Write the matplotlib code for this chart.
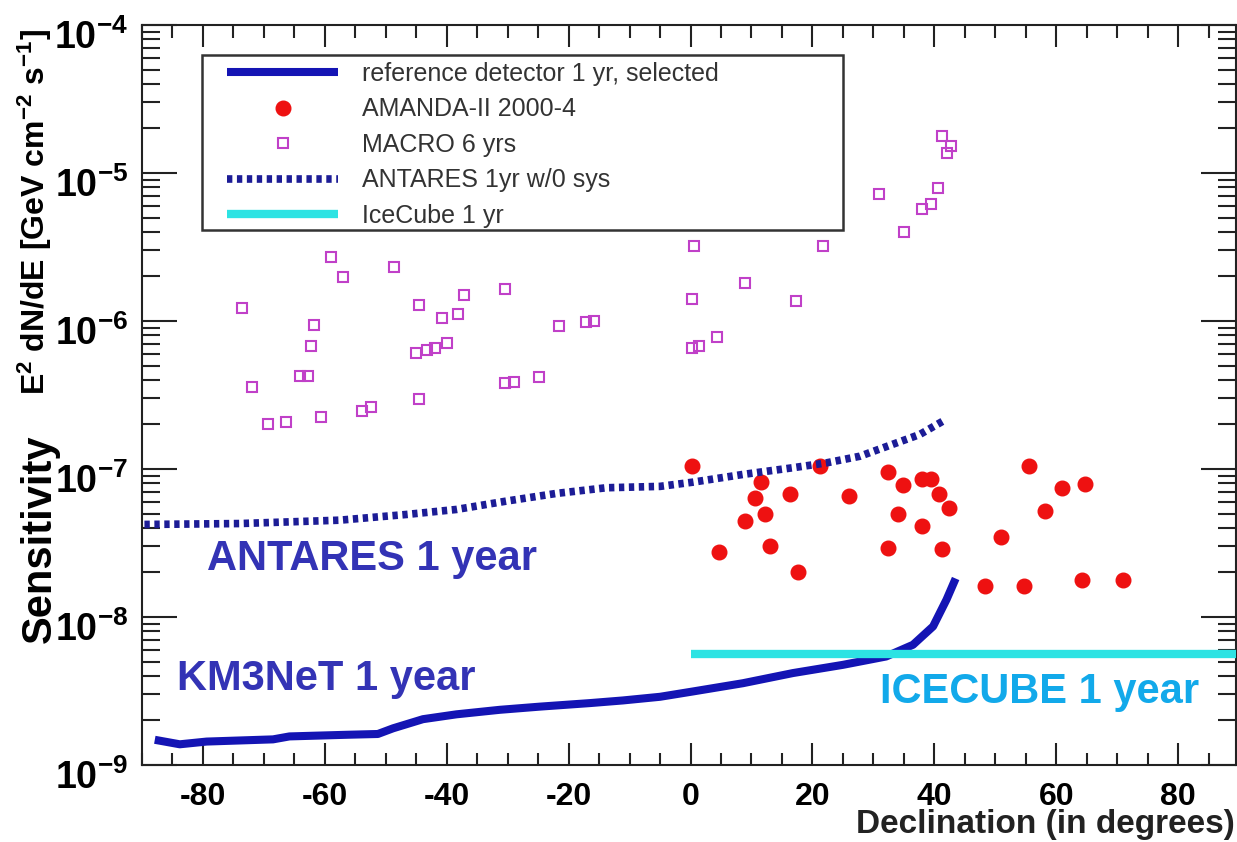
import numpy as np
import matplotlib
matplotlib.use("Agg")
from matplotlib import pyplot as plt
from matplotlib.ticker import LogLocator, MultipleLocator, NullFormatter
from matplotlib.patches import Rectangle
from matplotlib.transforms import ScaledTranslation

plt.rcParams['font.family'] = ['Liberation Sans', 'DejaVu Sans']
plt.rcParams['font.weight'] = 'bold'
plt.rcParams['mathtext.fontset'] = 'custom'
plt.rcParams['mathtext.rm'] = 'Liberation Sans:bold'
plt.rcParams['mathtext.bf'] = 'Liberation Sans:bold'
plt.rcParams['mathtext.it'] = 'Liberation Sans:bold:italic'
plt.rcParams['mathtext.default'] = 'rm'
plt.rcParams['axes.unicode_minus'] = False

# KM3NeT reference detector, 1 yr
km3_dec = [-87.9, -83.8, -79.4, -68.5, -65.8, -56.5, -51.3, -48.8, -43.9, -38.4, -31.3,
           -24.7, -16.5, -11.1, -5.0, 0.4, 8.6, 16.8, 25.0, 32.1, 36.5, 39.8, 42.0, 43.5]
km3_sens = [1.48e-9, 1.38e-9, 1.44e-9, 1.49e-9, 1.56e-9, 1.60e-9, 1.62e-9, 1.77e-9, 2.04e-9,
            2.20e-9, 2.36e-9, 2.48e-9, 2.62e-9, 2.73e-9, 2.89e-9, 3.14e-9, 3.57e-9, 4.18e-9,
            4.75e-9, 5.41e-9, 6.49e-9, 8.64e-9, 1.31e-8, 1.82e-8]

# AMANDA-II 2000-4
amanda_dec = [0.2, 4.7, 8.9, 10.5, 11.5, 12.2, 13.1, 16.4, 17.6, 21.2, 26.0, 32.4, 32.4, 34.0,
              34.8, 37.9, 38.0, 39.5, 40.7, 42.4, 41.2, 48.3, 51.0, 54.7, 55.5, 58.2, 60.9,
              64.7, 64.3, 70.9]
amanda_sens = [1.05e-7, 2.73e-8, 4.43e-8, 6.39e-8, 8.20e-8, 4.93e-8, 3.01e-8, 6.73e-8, 2.00e-8,
               1.05e-7, 6.62e-8, 9.59e-8, 2.93e-8, 4.93e-8, 7.74e-8, 4.15e-8, 8.51e-8, 8.51e-8,
               6.73e-8, 5.47e-8, 2.89e-8, 1.63e-8, 3.48e-8, 1.63e-8, 1.05e-7, 5.19e-8, 7.46e-8,
               7.94e-8, 1.79e-8, 1.79e-8]

# MACRO 6 yrs
macro_dec = [-73.6, -71.9, -69.3, -66.4, -64.1, -62.8, -62.2, -61.7, -60.6, -59.0, -57.1,
             -53.9, -52.5, -48.6, -45.1, -44.6, -44.6, -43.2, -41.9, -40.7, -39.9, -38.2,
             -37.2, -30.4, -30.4, -29.0, -24.9, -21.6, -17.2, -15.8, 0.6, 0.25, 0.25, 1.35,
             4.4, 8.9, 17.3, 21.7, 30.9, 35.0, 38.0, 39.4, 40.6, 41.2, 42.8, 42.1]
macro_sens = [1.22e-6, 3.58e-7, 2.00e-7, 2.08e-7, 4.25e-7, 4.25e-7, 6.79e-7, 9.41e-7, 2.26e-7,
              2.70e-6, 1.97e-6, 2.47e-7, 2.62e-7, 2.31e-6, 6.04e-7, 1.29e-6, 2.99e-7, 6.38e-7,
              6.59e-7, 1.04e-6, 7.05e-7, 1.11e-6, 1.50e-6, 1.64e-6, 3.80e-7, 3.90e-7, 4.19e-7,
              9.18e-7, 9.80e-7, 1.00e-6, 3.23e-6, 1.41e-6, 6.61e-7, 6.73e-7, 7.74e-7, 1.81e-6,
              1.37e-6, 3.23e-6, 7.23e-6, 3.98e-6, 5.73e-6, 6.18e-6, 7.94e-6, 1.78e-5, 1.52e-5,
              1.37e-5]

# ANTARES 1 yr w/o sys
antares_dec = [-89.6, -74.0, -57.6, -46.6, -38.4, -30.2, -22.0, -13.8, -5.0, 0.4, 8.6, 16.8,
               22.3, 27.8, 33.2, 37.6, 41.7]
antares_sens = [4.22e-8, 4.28e-8, 4.51e-8, 4.93e-8, 5.33e-8, 6.07e-8, 6.84e-8, 7.47e-8, 7.63e-8,
                8.15e-8, 9.19e-8, 1.02e-7, 1.10e-7, 1.22e-7, 1.47e-7, 1.71e-7, 2.14e-7]

# IceCube 1 yr
icecube_dec = [0, 90]
icecube_sens = [5.6e-9, 5.6e-9]

y_decades = [1e-9, 1e-8, 1e-7, 1e-6, 1e-5, 1e-4]

W, H = 1237, 842
fig = plt.figure(figsize=(W / 100, H / 100), dpi=100)
ax = fig.add_axes([142 / W, 77 / H, 1094 / W, 740 / H])

ax.plot(km3_dec, km3_sens, color='#1414b4', lw=5.8, solid_capstyle='butt',
        label='reference detector 1 yr, selected', zorder=3)
ax.plot(amanda_dec, amanda_sens, 'o', ls='none', color='#ee1111', ms=10.5,
        label='AMANDA-II 2000-4', zorder=3)
ax.plot(macro_dec, macro_sens, 's', ls='none', mfc='none', mec='#c040c8', ms=6.5, mew=1.5,
        label='MACRO 6 yrs', zorder=3)
ax.plot(antares_dec, antares_sens, color='#1c1c96', lw=5.5, ls=(0, (0.7, 0.6)),
        label='ANTARES 1yr w/0 sys', zorder=3)
ax.plot(icecube_dec, icecube_sens, color='#2de3e3', lw=6, solid_capstyle='butt',
        label='IceCube 1 yr', zorder=3)

ax.set_yscale('log')
ax.set_ylim(1e-9, 1e-4)
ax.set_xlim(-90, 89.5)
ax.set_yticks(y_decades)
ax.yaxis.set_minor_locator(LogLocator(base=10, subs=np.arange(2, 10), numticks=20))
ax.yaxis.set_minor_formatter(NullFormatter())
ax.xaxis.set_major_locator(MultipleLocator(20))
ax.xaxis.set_minor_locator(MultipleLocator(5))

ax.tick_params(which='both', direction='in', top=True, right=True, width=1.5, color='#222222')
ax.tick_params(axis='y', which='major', length=25, labelsize=27, pad=10)
ax.tick_params(axis='y', which='minor', length=13)
ax.tick_params(axis='x', which='major', length=16, labelsize=23, pad=12)
ax.tick_params(axis='x', which='minor', length=9)
for s in ax.spines.values():
    s.set_linewidth(1.5)
    s.set_color('#222222')

# y tick labels sit a little below their ticks, as in the original
shift = ScaledTranslation(0, -0.09, fig.dpi_scale_trans)
for lab in ax.get_yticklabels():
    lab.set_transform(lab.get_transform() + shift)

# legend frame
ax.add_patch(Rectangle((60 / 1094, 535 / 740), 641 / 1094, 175 / 740, transform=ax.transAxes,
                       fc='white', ec='#333333', lw=1.8, zorder=5))
leg = ax.legend(loc='upper left', bbox_to_anchor=(85 / 1094, 703 / 740), frameon=False,
                borderpad=0, borderaxespad=0, handlelength=4.44, handletextpad=0.96,
                labelspacing=0.46, numpoints=1,
                prop={'family': 'Liberation Sans', 'weight': 'normal', 'size': 18})
leg.set_zorder(6)
for t in leg.get_texts():
    t.set_color('#333333')

ax.text(-79.4, 2.09e-8, 'ANTARES 1 year', color='#3333b5', fontsize=30, fontweight='bold',
        va='baseline')
ax.text(-84.3, 3.22e-9, 'KM3NeT 1 year', color='#3333b5', fontsize=30, fontweight='bold',
        va='baseline')
ax.text(31.1, 2.63e-9, 'ICECUBE 1 year', color='#12a9ea', fontsize=30, fontweight='bold',
        va='baseline')

fig.text(35 / W, 1 - 212 / H, r'E$^{2}$ dN/dE [GeV cm$^{-2}$ s$^{-1}$]', rotation=90,
         ha='center', va='center', fontsize=23, fontweight='bold')
fig.text(40 / W, 1 - 539 / H, 'Sensitivity', rotation=90, ha='center', va='center',
         fontsize=30, fontweight='bold')
fig.text(1235 / W, 9 / H, 'Declination (in degrees)', ha='right', va='baseline',
         fontsize=24, fontweight='bold', color='#222222')

fig.savefig('out.png', dpi=100)
